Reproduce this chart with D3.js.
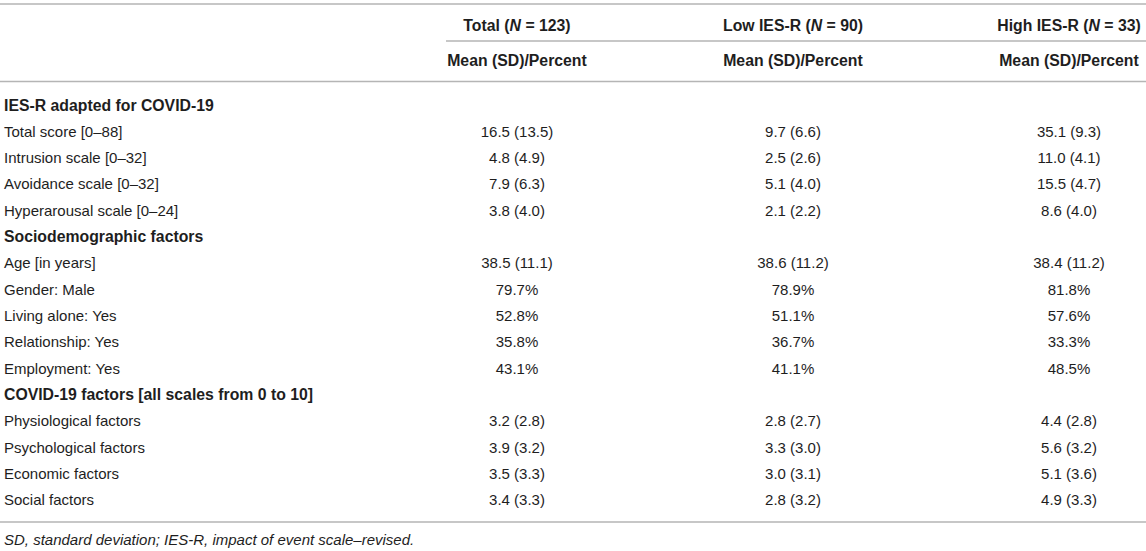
<!DOCTYPE html>
<html>
<head>
<meta charset="utf-8">
<script src="https://cdn.jsdelivr.net/npm/d3@7"></script>
<style>
  html, body { margin: 0; padding: 0; background: #fff; }
  svg { display: block; font-family: "Liberation Sans", Arial, Helvetica, sans-serif; }
</style>
</head>
<body>
<svg id="chart" width="1146" height="551"></svg>
<script>
// ---- Data ----
const groupNames = ["Total", "Low IES-R", "High IES-R"];
const groupN = ["123", "90", "33"];
const subHeader = "Mean (SD)/Percent";

const rowLabels = [
  "IES-R adapted for COVID-19",
  "Total score [0–88]",
  "Intrusion scale [0–32]",
  "Avoidance scale [0–32]",
  "Hyperarousal scale [0–24]",
  "Sociodemographic factors",
  "Age [in years]",
  "Gender: Male",
  "Living alone: Yes",
  "Relationship: Yes",
  "Employment: Yes",
  "COVID-19 factors [all scales from 0 to 10]",
  "Physiological factors",
  "Psychological factors",
  "Economic factors",
  "Social factors"
];
const rowIsSection = [true, false, false, false, false, true, false, false, false, false, false, true, false, false, false, false];

const totalValues = ["", "16.5 (13.5)", "4.8 (4.9)", "7.9 (6.3)", "3.8 (4.0)", "", "38.5 (11.1)", "79.7%", "52.8%", "35.8%", "43.1%", "", "3.2 (2.8)", "3.9 (3.2)", "3.5 (3.3)", "3.4 (3.3)"];
const lowValues   = ["", "9.7 (6.6)", "2.5 (2.6)", "5.1 (4.0)", "2.1 (2.2)", "", "38.6 (11.2)", "78.9%", "51.1%", "36.7%", "41.1%", "", "2.8 (2.7)", "3.3 (3.0)", "3.0 (3.1)", "2.8 (3.2)"];
const highValues  = ["", "35.1 (9.3)", "11.0 (4.1)", "15.5 (4.7)", "8.6 (4.0)", "", "38.4 (11.2)", "81.8%", "57.6%", "33.3%", "48.5%", "", "4.4 (2.8)", "5.6 (3.2)", "5.1 (3.6)", "4.9 (3.3)"];

const footnote = "SD, standard deviation; IES-R, impact of event scale–revised.";

// ---- Layout ----
const W = 1146, H = 551;
const svg = d3.select("#chart");
const textColor = "#1e1e1e";
const lineColor = "#b5b5b5";
const fs = 15, fsBold = 15.8;

const x = d3.scalePoint().domain(groupNames).range([517, 1069]);
const y = d3.scalePoint().domain(d3.range(rowLabels.length)).range([105, 500]);

const lineY = { top: 4, group: 41, header: 81.5, bottom: 522 };

function hline(y0, x0, x1) {
  svg.append("line").attr("x1", x0).attr("x2", x1).attr("y1", y0).attr("y2", y0)
    .attr("stroke", lineColor).attr("stroke-width", 1.6);
}
hline(lineY.top, 0, W);
hline(lineY.group, 446, W);
hline(lineY.header, 0, W);
hline(lineY.bottom, 0, W);

// Header row 1
const h1 = svg.append("g").selectAll("text").data(groupNames).join("text")
  .attr("x", d => x(d)).attr("y", 25).attr("dy", "0.35em")
  .attr("text-anchor", "middle").attr("font-weight", "bold")
  .attr("font-size", fsBold).attr("fill", textColor);
h1.append("tspan").text(d => d + " (");
h1.append("tspan").attr("font-style", "italic").text("N");
h1.append("tspan").text((d, i) => " = " + groupN[i] + ")");

// Header row 2
svg.append("g").selectAll("text").data(groupNames).join("text")
  .attr("x", d => x(d)).attr("y", 60).attr("dy", "0.35em")
  .attr("text-anchor", "middle").attr("font-weight", "bold")
  .attr("font-size", fsBold).attr("fill", textColor)
  .text(subHeader);

// Row labels
svg.append("g").selectAll("text").data(rowLabels).join("text")
  .attr("x", 4).attr("y", (d, i) => y(i)).attr("dy", "0.35em")
  .attr("font-weight", (d, i) => rowIsSection[i] ? "bold" : "normal")
  .attr("font-size", (d, i) => rowIsSection[i] ? fsBold : fs)
  .attr("fill", textColor)
  .text(d => d);

// Values
const cols = [totalValues, lowValues, highValues];
cols.forEach((vals, ci) => {
  svg.append("g").selectAll("text").data(vals).join("text")
    .attr("x", x(groupNames[ci])).attr("y", (d, i) => y(i)).attr("dy", "0.35em")
    .attr("text-anchor", "middle").attr("font-size", fs).attr("fill", textColor)
    .text(d => d);
});

// Footnote
svg.append("text").attr("x", 4).attr("y", 540).attr("dy", "0.35em")
  .attr("font-style", "italic").attr("font-size", fs).attr("fill", textColor)
  .text(footnote);
</script>
</body>
</html>
